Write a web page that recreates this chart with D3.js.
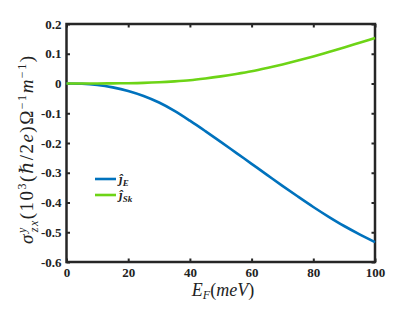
<!DOCTYPE html>
<html>
<head>
<meta charset="utf-8">
<script src="https://cdn.jsdelivr.net/npm/d3@7"></script>
<style>
  body { margin: 0; background: #fff; }
  svg text { font-family: "Liberation Serif", "DejaVu Serif", serif; }
</style>
</head>
<body>
<div id="chart"></div>
<script>
// data
const energy = [0, 5, 10, 15, 20, 25, 30, 35, 40, 45, 50, 55, 60, 65, 70, 75, 80, 85, 90, 95, 100];
const jE = [0, -0.001, -0.005, -0.013, -0.025, -0.042, -0.064, -0.092, -0.125, -0.16, -0.196, -0.233, -0.27, -0.307, -0.344, -0.38, -0.415, -0.448, -0.479, -0.507, -0.533];
const jSk = [0, 0, 0, 0.0005, 0.001, 0.002, 0.004, 0.007, 0.011, 0.017, 0.024, 0.032, 0.041, 0.052, 0.064, 0.077, 0.091, 0.106, 0.121, 0.137, 0.153];
const xTicks = [0, 20, 40, 60, 80, 100];
const yTicks = [0.2, 0.1, 0, -0.1, -0.2, -0.3, -0.4, -0.5, -0.6];

const width = 415, height = 312;
const m_left = 66.5, m_right = 375, m_top = 24, m_bottom = 262;
const axisColor = "#262626";
const serif = "Liberation Serif";

const svg = d3.select("#chart").append("svg").attr("width", width).attr("height", height);

const x = d3.scaleLinear().domain([0, 100]).range([m_left, m_right]);
const y = d3.scaleLinear().domain([-0.6, 0.2]).range([m_bottom, m_top]);

const fmt = d => d === 0 ? "0" : d3.format(".1f")(d).replace("−", "-");

// axes, ticks pointing inward on all sides
const tickFont = g => g.attr("font-family", serif).selectAll("text")
  .attr("font-weight", "bold").attr("font-size", 13).attr("fill", "#222");
svg.append("g").attr("transform", `translate(0,${m_bottom})`)
  .call(d3.axisBottom(x).tickValues(xTicks).tickSize(-3.5).tickPadding(6))
  .call(tickFont);
svg.append("g").attr("transform", `translate(${m_left},0)`)
  .call(d3.axisLeft(y).tickValues(yTicks).tickFormat(fmt).tickSize(-3.5).tickPadding(5))
  .call(tickFont);
svg.append("g").attr("transform", `translate(0,${m_top})`)
  .call(d3.axisTop(x).tickValues(xTicks).tickSize(-3.5).tickFormat(""));
svg.append("g").attr("transform", `translate(${m_right},0)`)
  .call(d3.axisRight(y).tickValues(yTicks).tickSize(-3.5).tickFormat(""));
svg.selectAll(".domain").remove();
svg.selectAll(".tick line").attr("stroke", axisColor).attr("stroke-width", 2);

svg.append("rect").attr("x", m_left).attr("y", m_top).attr("width", m_right - m_left).attr("height", m_bottom - m_top)
  .attr("fill", "none").attr("stroke", axisColor).attr("stroke-width", 2.5);

// curves
const line = d3.line().x((d, i) => x(energy[i])).y(d => y(d)).curve(d3.curveMonotoneX);
const series = [
  { name: "E", values: jE, color: "#0072bd" },
  { name: "Sk", values: jSk, color: "#6dd416" }
];
svg.selectAll("path.curve").data(series).enter().append("path")
  .attr("class", "curve")
  .attr("d", d => line(d.values))
  .attr("fill", "none").attr("stroke", d => d.color).attr("stroke-width", 2.6);

// legend
const legend = svg.append("g").attr("transform", "translate(95,179)");
series.forEach((s, i) => {
  const g = legend.append("g").attr("transform", `translate(0,${i * 16})`);
  g.append("line").attr("x1", 0).attr("x2", 21).attr("stroke", s.color).attr("stroke-width", 2.6);
  const t = g.append("text").attr("x", 24).attr("y", 4).attr("font-family", serif).attr("font-style", "italic").attr("font-weight", "bold").attr("font-size", 13).attr("fill", "#222");
  t.append("tspan").text("ĵ");
  t.append("tspan").attr("font-size", 9).attr("dy", 3).text(s.name);
});

// x label
const xl = svg.append("text").attr("x", 223).attr("y", 296).attr("text-anchor", "middle").attr("font-family", serif).attr("font-size", 18).attr("font-style", "italic").attr("fill", "#222");
xl.append("tspan").text("E");
xl.append("tspan").attr("font-size", 12).attr("dy", 3).text("F");
xl.append("tspan").attr("dy", -3).attr("font-style", "normal").text("(");
xl.append("tspan").text("meV");
xl.append("tspan").attr("font-style", "normal").text(")");

// y label
const yl = svg.append("text").attr("transform", "translate(33,150) rotate(-90)").attr("text-anchor", "middle")
  .attr("font-family", serif).attr("font-size", 19).attr("fill", "#222")
  .attr("textLength", 188).attr("lengthAdjust", "spacing");
yl.append("tspan").attr("font-style", "italic").text("σ");
yl.append("tspan").attr("font-style", "italic").attr("font-size", 12).attr("dy", -7).text("y");
yl.append("tspan").attr("font-style", "italic").attr("font-size", 12).attr("dx", -6).attr("dy", 12).text("zx");
yl.append("tspan").attr("dy", -5).text("(10");
yl.append("tspan").attr("font-size", 12).attr("dy", -7).text("3");
yl.append("tspan").attr("dy", 7).text("(ℏ/2");
yl.append("tspan").attr("font-style", "italic").text("e");
yl.append("tspan").text(")Ω");
yl.append("tspan").attr("font-size", 12).attr("dy", -7).text("−1");
yl.append("tspan").attr("font-style", "italic").attr("dy", 7).text("m");
yl.append("tspan").attr("font-size", 12).attr("dy", -7).text("−1");
yl.append("tspan").attr("dy", 7).text(")");
</script>
</body>
</html>
